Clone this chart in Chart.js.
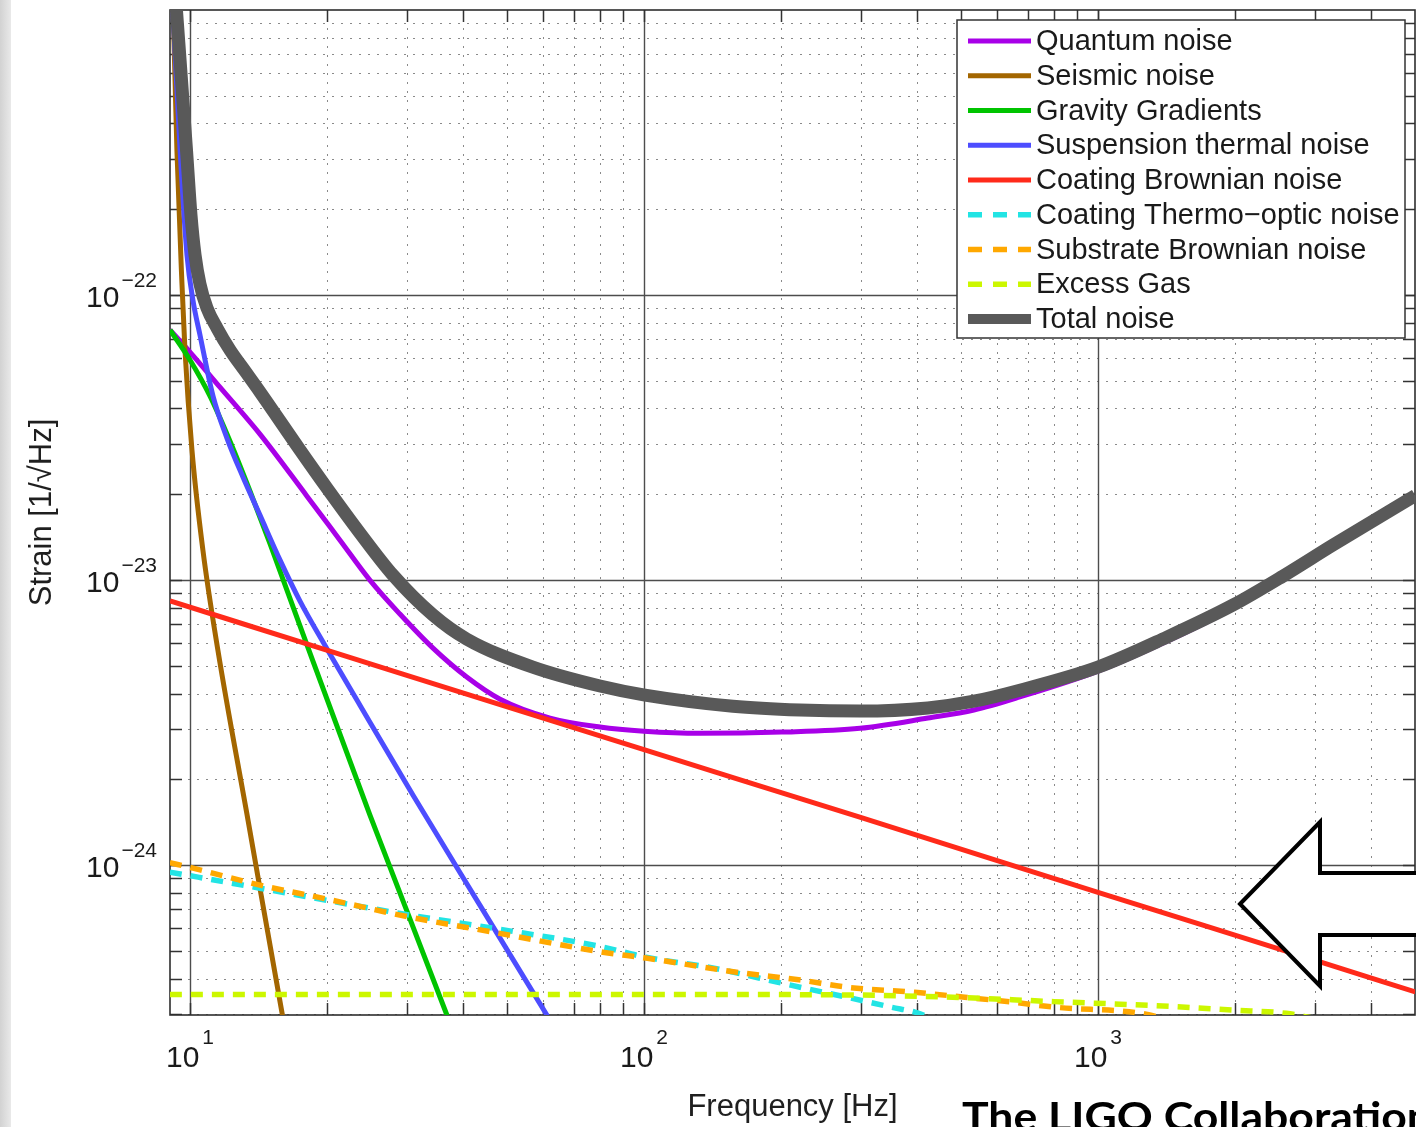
<!DOCTYPE html>
<html>
<head>
<meta charset="utf-8">
<script src="https://cdn.jsdelivr.net/npm/chart.js@4.4.1/dist/chart.umd.min.js"></script>
<style>
  html, body { margin: 0; padding: 0; background: #fff; }
  #wrap { position: relative; width: 1416px; height: 1127px; overflow: hidden; background: #fff; }
  #edge { position: absolute; left: 0; top: 0; width: 11px; height: 1127px;
          background: linear-gradient(to right, #d2d2d2, #e0e0e0 60%, #e9e9e9); }
  canvas { position: absolute; left: 0; top: 0; }
</style>
</head>
<body>
<div id="wrap">
  <div id="edge"></div>
  <canvas id="noiseChart" width="1416" height="1127"></canvas>
</div>
<script>
// 各噪声分量：频率 [Hz] 与应变谱密度 [1/√Hz]
const quantumFreq = [9.036, 10, 11.64, 14.26, 18.1, 21.4, 24.9, 29.0, 34.3, 40.7, 48.2, 62.1, 80, 100, 132.8, 201, 299, 422, 533, 673, 1000, 1419, 1983, 2556, 3293, 5000];
const quantumStrain = [7.54e-23, 6.31e-23, 4.75e-23, 3.25e-23, 1.97e-23, 1.38e-23, 1.0e-23, 7.60e-24, 5.77e-24, 4.57e-24, 3.82e-24, 3.28e-24, 3.05e-24, 2.95e-24, 2.90e-24, 2.93e-24, 3.02e-24, 3.28e-24, 3.50e-24, 3.89e-24, 4.79e-24, 6.1e-24, 7.95e-24, 1.005e-23, 1.29e-23, 1.93e-23];

const seismicFreq = [9.17, 9.36, 9.60, 9.75, 10.10, 10.68, 11.52, 13.42, 15.95, 16.4];
const seismicStrain = [1.1e-21, 3.2e-22, 1.10e-22, 6.4e-23, 2.86e-23, 1.27e-23, 5.68e-24, 1.44e-24, 3.03e-25, 2.4e-25];

const gravityFreq = [9.036, 10, 11.07, 12.25, 13.56, 15.01, 17.74, 24.9, 36.8, 39.3];
const gravityStrain = [7.54e-23, 5.92e-23, 4.42e-23, 3.07e-23, 2.05e-23, 1.34e-23, 6.46e-24, 1.50e-24, 2.98e-25, 2.24e-25];

const suspensionFreq = [9.10, 9.51, 9.85, 10.15, 10.52, 11.24, 12.06, 13.08, 14.26, 15.79, 17.47, 20.04, 23.68, 31.0, 43.5, 61.1, 65.3];
const suspensionStrain = [1.27e-21, 3.23e-22, 1.38e-22, 9.60e-23, 7.24e-23, 4.42e-23, 3.15e-23, 2.30e-23, 1.69e-23, 1.175e-23, 8.44e-24, 5.73e-24, 3.64e-24, 1.76e-24, 7.24e-25, 2.98e-25, 2.51e-25];

const coatingFreq = [9.04, 20, 50, 100, 300, 1000, 3000, 5000];
const coatingStrain = [8.45e-24, 5.68e-24, 3.59e-24, 2.54e-24, 1.47e-24, 8.03e-25, 4.64e-25, 3.59e-25];

const thermoOpticFreq = [9.03, 14.26, 30.5, 46.5, 81.2, 101, 142.6, 180, 226, 280, 352, 395, 430];
const thermoOpticStrain = [9.45e-25, 8.30e-25, 6.68e-25, 6.01e-25, 5.16e-25, 4.75e-25, 4.35e-25, 4.01e-25, 3.70e-25, 3.44e-25, 3.17e-25, 3.05e-25, 2.9e-25];

const substrateFreq = [9.03, 10.15, 14.26, 20.04, 30.5, 46.5, 81.2, 101, 160, 222, 280, 395, 509, 643, 812, 1231, 1400];
const substrateStrain = [1.02e-24, 9.76e-25, 8.51e-25, 7.60e-25, 6.57e-25, 5.82e-25, 4.95e-25, 4.72e-25, 4.21e-25, 3.95e-25, 3.73e-25, 3.58e-25, 3.44e-25, 3.31e-25, 3.17e-25, 3.03e-25, 2.9e-25];

const gasFreq = [9.03, 100, 300, 500, 800, 1300, 2000, 2600, 3000];
const gasStrain = [3.52e-25, 3.52e-25, 3.50e-25, 3.43e-25, 3.32e-25, 3.22e-25, 3.10e-25, 3.02e-25, 2.9e-25];

const totalFreq = [9.268, 9.824, 10.05, 10.26, 10.52, 10.90, 11.47, 12.25, 13.22, 14.26, 17.47, 20.04, 23.68, 28.0, 34.3, 40.7, 56.9, 80.0, 100.5, 157, 220.6, 299, 422, 533, 673, 1000, 1419, 1983, 2556, 3293, 5000];
const totalStrain = [1.175e-21, 3.23e-22, 1.909e-22, 1.381e-22, 1.093e-22, 9.0e-23, 7.66e-23, 6.41e-23, 5.41e-23, 4.57e-23, 2.86e-23, 2.10e-23, 1.462e-23, 1.041e-23, 7.54e-24, 6.21e-24, 4.95e-24, 4.25e-24, 3.95e-24, 3.61e-24, 3.50e-24, 3.47e-24, 3.56e-24, 3.76e-24, 4.11e-24, 4.95e-24, 6.31e-24, 8.17e-24, 1.033e-23, 1.327e-23, 1.98e-23];

// 坐标轴刻度标签
const xTickValues = [10, 100, 1000];
const xTickExps = ['1', '2', '3'];
const yTickValues = [1e-22, 1e-23, 1e-24];
const yTickExps = ['\u221222', '\u221223', '\u221224'];

const FONT = '"Liberation Sans", Arial, Helvetica, sans-serif';

function series(label, freq, strain, color, width, dash, order) {
    return {
        label: label,
        data: freq.map((f, i) => ({ x: f, y: strain[i] })),
        borderColor: color,
        borderWidth: width,
        borderDash: dash || [],
        borderCapStyle: 'butt',
        borderJoinStyle: 'round',
        pointRadius: 0,
        fill: false,
        cubicInterpolationMode: 'monotone',
        clip: 0,
        order: order
    };
}

// MATLAB 风格网格、刻度和边框
const gridPlugin = {
    id: 'matlabGrid',
    beforeDatasetsDraw(chart) {
        const { ctx, chartArea: a, scales: { x, y } } = chart;
        const xMinor = [], yMinor = [];
        for (let d = 1; d <= 3; d++) {
            for (let k = 2; k <= 9; k++) {
                const v = k * Math.pow(10, d);
                if (v < x.max) xMinor.push(Math.round(x.getPixelForValue(v)) + 0.5);
            }
        }
        for (let e = -25; e <= -22; e++) {
            for (let k = 2; k <= 9; k++) {
                const v = k * Math.pow(10, e);
                if (v > y.min && v < y.max) yMinor.push(Math.round(y.getPixelForValue(v)) + 0.5);
            }
        }
        const xMajor = xTickValues.map(v => Math.round(x.getPixelForValue(v)) + 0.5);
        const yMajor = yTickValues.map(v => Math.round(y.getPixelForValue(v)) + 0.5);

        ctx.save();
        ctx.beginPath();
        ctx.rect(a.left, a.top, a.right - a.left, a.bottom - a.top);
        ctx.clip();

        // 次网格：点线
        ctx.strokeStyle = '#8a8a8a';
        ctx.lineWidth = 1;
        ctx.setLineDash([2, 7]);
        ctx.beginPath();
        xMinor.forEach(px => { ctx.moveTo(px, a.top); ctx.lineTo(px, a.bottom); });
        yMinor.forEach(py => { ctx.moveTo(a.left, py); ctx.lineTo(a.right, py); });
        ctx.stroke();

        // 主网格：实线
        ctx.setLineDash([]);
        ctx.strokeStyle = '#4d4d4d';
        ctx.lineWidth = 1.4;
        ctx.beginPath();
        xMajor.forEach(px => { ctx.moveTo(px, a.top); ctx.lineTo(px, a.bottom); });
        yMajor.forEach(py => { ctx.moveTo(a.left, py); ctx.lineTo(a.right, py); });
        ctx.stroke();

        // 四边朝内的刻度
        const len = 12;
        ctx.strokeStyle = '#333';
        ctx.lineWidth = 1.5;
        ctx.beginPath();
        xMinor.concat(xMajor).forEach(px => {
            ctx.moveTo(px, a.bottom); ctx.lineTo(px, a.bottom - len);
            ctx.moveTo(px, a.top); ctx.lineTo(px, a.top + len);
        });
        yMinor.concat(yMajor).forEach(py => {
            ctx.moveTo(a.left, py); ctx.lineTo(a.left + len, py);
            ctx.moveTo(a.right, py); ctx.lineTo(a.right - len, py);
        });
        ctx.stroke();
        ctx.restore();

        ctx.save();
        ctx.strokeStyle = '#2e2e2e';
        ctx.lineWidth = 1.6;
        ctx.strokeRect(a.left, a.top, a.right - a.left, a.bottom - a.top);
        ctx.restore();
    }
};

// 图例（框内，右上角）
const legendPlugin = {
    id: 'boxLegend',
    afterDatasetsDraw(chart) {
        const { ctx, chartArea: a } = chart;
        const w = 448, h = 318, rowH = 34.75;
        const left = a.right - 10 - w, top = a.top + 10;
        ctx.save();
        ctx.fillStyle = '#fff';
        ctx.fillRect(left, top, w, h);
        ctx.strokeStyle = '#333';
        ctx.lineWidth = 1.5;
        ctx.strokeRect(left, top, w, h);
        ctx.font = '29px ' + FONT;
        ctx.textBaseline = 'middle';
        chart.data.datasets.forEach((ds, i) => {
            const cy = top + 21 + i * rowH;
            ctx.setLineDash(ds.borderDash.length ? [14, 11] : []);
            ctx.strokeStyle = ds.borderColor;
            ctx.lineWidth = Math.min(ds.borderWidth, 10);
            ctx.beginPath();
            ctx.moveTo(left + 11, cy);
            ctx.lineTo(left + 74, cy);
            ctx.stroke();
            ctx.setLineDash([]);
            ctx.fillStyle = '#1a1a1a';
            ctx.fillText(ds.label, left + 79, cy + 1);
        });
        ctx.restore();
    }
};

// 10 的幂次刻度标签、箭头和署名
const overlayPlugin = {
    id: 'overlay',
    afterDraw(chart) {
        const { ctx, chartArea: a, scales: { x, y } } = chart;
        ctx.save();
        ctx.fillStyle = '#1a1a1a';
        ctx.textBaseline = 'alphabetic';
        ctx.textAlign = 'left';

        xTickValues.forEach((v, i) => {
            const cx = x.getPixelForValue(v);
            ctx.font = '30px ' + FONT;
            const w1 = ctx.measureText('10').width;
            ctx.font = '21px ' + FONT;
            const w2 = ctx.measureText(xTickExps[i]).width;
            const start = cx - (w1 + 3 + w2) / 2;
            ctx.font = '30px ' + FONT;
            ctx.fillText('10', start, a.bottom + 52);
            ctx.font = '21px ' + FONT;
            ctx.fillText(xTickExps[i], start + w1 + 3, a.bottom + 29);
        });

        yTickValues.forEach((v, i) => {
            const py = y.getPixelForValue(v);
            const right = a.left - 13;
            ctx.font = '21px ' + FONT;
            const w2 = ctx.measureText(yTickExps[i]).width;
            ctx.fillText(yTickExps[i], right - w2, py - 8);
            ctx.font = '30px ' + FONT;
            const w1 = ctx.measureText('10').width;
            ctx.fillText('10', right - w2 - 2 - w1, py + 12);
        });

        // 空心箭头
        ctx.beginPath();
        ctx.moveTo(1240, 904);
        ctx.lineTo(1320, 822);
        ctx.lineTo(1320, 873);
        ctx.lineTo(1425, 873);
        ctx.lineTo(1425, 935);
        ctx.lineTo(1320, 935);
        ctx.lineTo(1320, 986);
        ctx.closePath();
        ctx.fillStyle = '#fff';
        ctx.fill();
        ctx.lineWidth = 4;
        ctx.lineJoin = 'miter';
        ctx.strokeStyle = '#000';
        ctx.stroke();

        // 署名
        const credit = 'The LIGO Collaboration';
        ctx.font = 'bold 40px Lato, "Open Sans", sans-serif';
        const tw = ctx.measureText(credit).width;
        ctx.translate(962, 1131);
        ctx.scale(470 / tw, 1);
        ctx.fillStyle = '#000';
        ctx.fillText(credit, 0, 0);
        ctx.restore();
    }
};

document.addEventListener('DOMContentLoaded', function() {
    const ctx = document.getElementById('noiseChart').getContext('2d');
    new Chart(ctx, {
        type: 'line',
        data: {
            datasets: [
                series('Quantum noise', quantumFreq, quantumStrain, '#a800e8', 5, null, 8),
                series('Seismic noise', seismicFreq, seismicStrain, '#a36600', 5, null, 7),
                series('Gravity Gradients', gravityFreq, gravityStrain, '#00c400', 5, null, 6),
                series('Suspension thermal noise', suspensionFreq, suspensionStrain, '#4d4dff', 5, null, 5),
                series('Coating Brownian noise', coatingFreq, coatingStrain, '#ff2a1a', 5, null, 4),
                series('Coating Thermo\u2212optic noise', thermoOpticFreq, thermoOpticStrain, '#22e4e4', 5.5, [12, 9], 3),
                series('Substrate Brownian noise', substrateFreq, substrateStrain, '#ffa800', 5.5, [12, 9], 2),
                series('Excess Gas', gasFreq, gasStrain, '#ccf700', 5.5, [12, 9], 1),
                series('Total noise', totalFreq, totalStrain, '#595959', 13, null, 0)
            ]
        },
        options: {
            responsive: false,
            animation: false,
            devicePixelRatio: 1,
            events: [],
            layout: { padding: { top: 10, right: 1, left: 0, bottom: 0 } },
            plugins: { legend: { display: false }, tooltip: { enabled: false } },
            scales: {
                x: {
                    type: 'logarithmic',
                    min: 9.036,
                    max: 4992,
                    ticks: { display: false },
                    grid: { display: false },
                    border: { display: false },
                    title: {
                        display: true,
                        text: 'Frequency [Hz]',
                        color: '#1f1f1f',
                        font: { family: FONT, size: 31 },
                        padding: { top: 0, bottom: 1 }
                    },
                    afterFit: function(scale) { scale.height = 112; }
                },
                y: {
                    type: 'logarithmic',
                    min: 2.98e-25,
                    max: 1.0e-21,
                    ticks: { display: false },
                    grid: { display: false },
                    border: { display: false },
                    title: {
                        display: true,
                        text: 'Strain [1/\u221AHz]',
                        color: '#1f1f1f',
                        font: { family: FONT, size: 31 },
                        padding: { top: 24, bottom: 0 }
                    },
                    afterFit: function(scale) { scale.width = 170; }
                }
            }
        },
        plugins: [gridPlugin, legendPlugin, overlayPlugin]
    });
});
</script>
</body>
</html>
